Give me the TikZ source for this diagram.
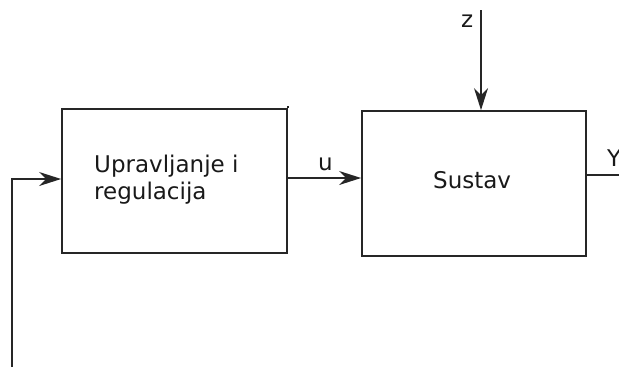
\documentclass[tikz,border=0pt]{standalone}
\usepackage{fontspec}
\setmainfont{DejaVu Sans}
\usetikzlibrary{arrows.meta}
\begin{document}
\begin{tikzpicture}[x=1bp,y=-1bp,
  blk/.style={draw=black!85, line width=1.8bp, minimum width=225bp, minimum height=144bp, inner sep=0pt},
  lbl/.style={font=\fontsize{23bp}{27bp}\selectfont, inner sep=0pt, anchor=base west, text=black!90},
  wire/.style={draw=black!85, line width=1.8bp},
  arr/.style={wire, -{Stealth[length=22bp, width=14bp, inset=7bp]}}]
\useasboundingbox (0,0) rectangle (619,367);
\node[blk] (ctl) at (174.5,181) {};
\node[blk, minimum width=224bp, minimum height=145bp] (sys) at (474,183.5) {};
\node[lbl] (ctltxt1) at (94,172) {Upravljanje i};
\node[lbl] (ctltxt2) at (94,199) {regulacija};
\node[lbl] (systxt) at (433,188) {Sustav};
\node[lbl] (ulbl) at (318,170) {u};
\node[lbl] (zlbl) at (461,27) {z};
\node[lbl] (ylbl) at (607,166) {Y};
\coordinate (fb0) at (12,367);
\coordinate (fb1) at (12,179);
\coordinate (zin) at (481,10);
\coordinate (yout) at (619,175);
\coordinate (utop) at (0,178);
\draw[arr] (fb0) -- (fb1) -- (ctl.west |- fb1);
\draw[arr] (ctl.east |- utop) -- (sys.west |- utop);
\draw[arr] (zin) -- (zin |- sys.north);
\draw[wire] (sys.east |- yout) -- (yout);
\draw[wire] (ctl.north east) -- ++(0,-2);
\end{tikzpicture}
\end{document}
